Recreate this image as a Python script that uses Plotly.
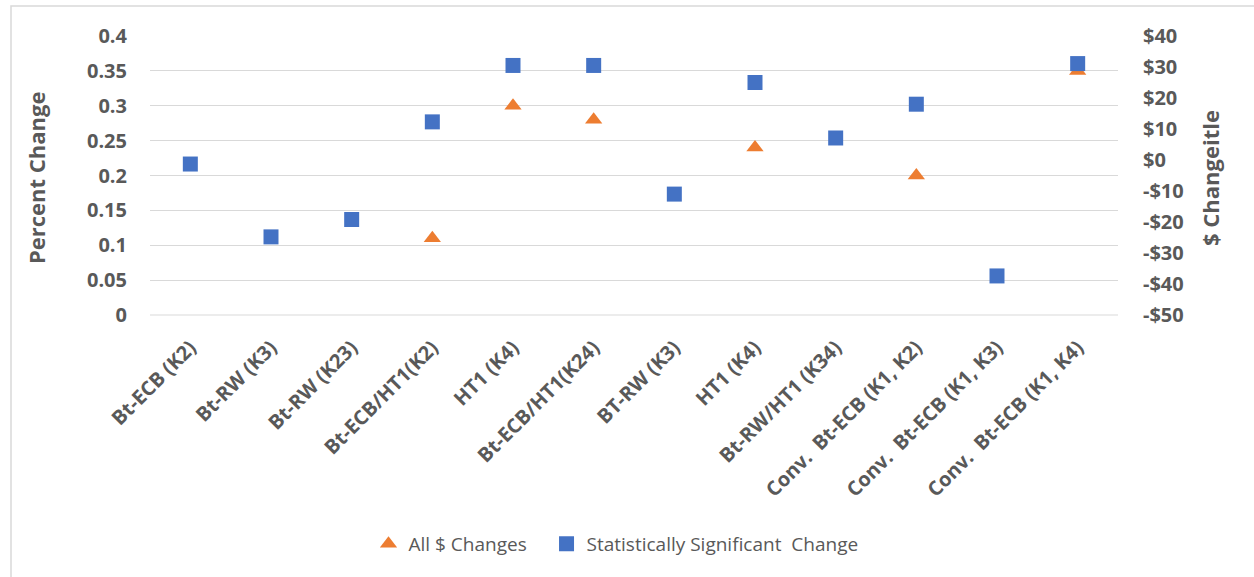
import plotly.graph_objects as go

categories = ["Bt-ECB (K2)", "Bt-RW (K3)", "Bt-RW (K23)", "Bt-ECB/HT1(K2)", "HT1 (K4)",
              "Bt-ECB/HT1(K24)", "BT-RW (K3)", "HT1 (K4)", "Bt-RW/HT1 (K34)",
              "Conv.\u00a0 Bt-ECB (K1, K2)", "Conv.\u00a0 Bt-ECB (K1, K3)", "Conv.\u00a0 Bt-ECB (K1, K4)"]
all_changes = [None, None, None, 0.11, 0.30, 0.28, None, 0.24, None, 0.20, None, 0.35]
significant_changes = [-1.3, -24.8, -19.2, 12.3, 30.5, 30.5, -11.0, 25.0, 7.1, 18.0, -37.4, 31.1]
left_ticks = [0, 0.05, 0.1, 0.15, 0.2, 0.25, 0.3, 0.35, 0.4]
left_tick_text = ["0", "0.05", "0.1", "0.15", "0.2", "0.25", "0.3", "0.35", "0.4"]
right_ticks = [40, 30, 20, 10, 0, -10, -20, -30, -40, -50]
right_tick_text = ["$40", "$30", "$20", "$10", "$0", "-$10", "-$20", "-$30", "-$40", "-$50"]

x_pos = list(range(len(categories)))
FONT = "Open Sans"
GRAY = "#595959"

fig = go.Figure()
fig.add_trace(go.Scatter(
    x=x_pos, y=all_changes, mode="markers", name="All $ Changes\u00a0\u00a0\u00a0",
    marker=dict(symbol="triangle-up", size=15, color="#ED7D31", line=dict(width=0)),
    yaxis="y"))
fig.add_trace(go.Scatter(
    x=x_pos, y=significant_changes, mode="markers", name="Statistically Significant\u00a0 Change",
    marker=dict(symbol="square", size=15, color="#4472C4", line=dict(width=0)),
    yaxis="y2"))

L, R, T, B = 150, 136, 36, 262
W, H = 1254, 577
pw, ph = W - L - R, H - T - B

def px_x(px):
    return (px - L) / pw

def px_y(py):
    return (H - B - py) / ph

fig.update_layout(
    width=W, height=H,
    margin=dict(l=L, r=R, t=T, b=B, pad=0),
    paper_bgcolor="white", plot_bgcolor="white",
    font=dict(family=FONT, color=GRAY),
    showlegend=True,
    legend=dict(orientation="h", x=px_x(616), y=px_y(544), xanchor="center", yanchor="middle",
                font=dict(family=FONT, size=19, color=GRAY), itemwidth=30,
                traceorder="normal", bgcolor="rgba(0,0,0,0)"),
    xaxis=dict(range=[-0.5, len(categories) - 0.5], tickmode="array", tickvals=x_pos,
               ticktext=categories, tickangle=-45, showgrid=False, zeroline=False,
               showline=False, ticks="", ticklabelstandoff=16,
               tickfont=dict(family=FONT, size=20, color=GRAY, weight="bold")),
    yaxis=dict(range=[0, 0.4], tickmode="array", tickvals=left_ticks, ticktext=left_tick_text,
               showgrid=True, gridcolor="#D9D9D9", gridwidth=1, zeroline=False, showline=False,
               ticks="", ticklabelstandoff=22,
               tickfont=dict(family=FONT, size=20, color=GRAY, weight="bold")),
    yaxis2=dict(range=[-50, 40], overlaying="y", side="right", tickmode="array",
                tickvals=right_ticks, ticktext=right_tick_text, showgrid=False, zeroline=False,
                showline=False, ticks="", ticklabelstandoff=24,
                tickfont=dict(family=FONT, size=20, color=GRAY, weight="bold")),
    annotations=[
        dict(text="Percent Change", x=px_x(36), y=px_y(178), xref="paper", yref="paper",
             textangle=-90, showarrow=False, xanchor="center", yanchor="middle",
             font=dict(family=FONT, size=22, color=GRAY, weight="bold")),
        dict(text="$ Changeitle", x=px_x(1210), y=px_y(178), xref="paper", yref="paper",
             textangle=-90, showarrow=False, xanchor="center", yanchor="middle",
             font=dict(family=FONT, size=22, color=GRAY, weight="bold")),
    ],
    shapes=[
        dict(type="rect", xref="paper", yref="paper", x0=px_x(11), x1=px_x(1262),
             y0=px_y(590), y1=px_y(6), line=dict(color="#D9D9D9", width=1.5),
             fillcolor="rgba(0,0,0,0)", layer="below"),
        dict(type="line", xref="paper", yref="paper", x0=0, x1=1, y0=0, y1=0,
             line=dict(color="#D9D9D9", width=1), layer="below"),
    ],
)

fig.write_html("out.html", config={"displayModeBar": False},
               post_script="document.body.style.margin='0';")
